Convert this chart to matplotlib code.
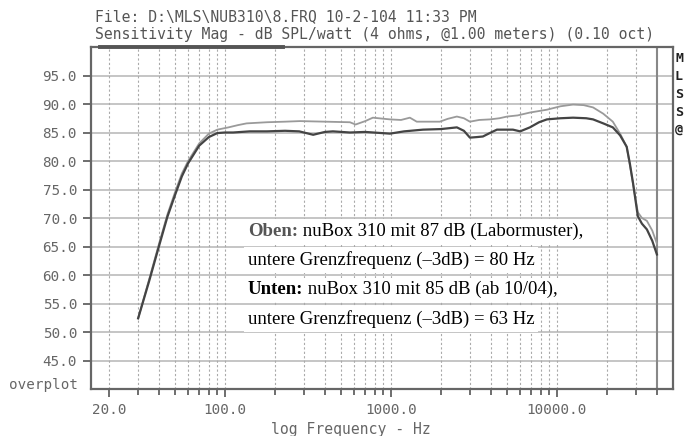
import matplotlib.pyplot as plt
from matplotlib.ticker import FixedLocator, NullFormatter

# Unten: nuBox 310, 85 dB (dark curve)
freq_unten = [30, 35, 40, 45, 50, 55, 60, 70, 80, 90, 100, 112, 141, 179, 230, 280, 340, 400,
              447, 566, 700, 986, 1200, 1560, 2000, 2495, 2750, 2990, 3300, 3580, 4000, 4350,
              5430, 6000, 6870, 7800, 8700, 10500, 12500, 15000, 16500, 19000, 21700, 24000,
              26300, 27500, 28700, 30700, 32500, 34800, 37500, 40000]
db_unten = [52.4, 59.0, 65.0, 70.2, 74.0, 77.3, 79.6, 82.7, 84.2, 84.9, 85.0, 85.0, 85.2, 85.2,
            85.3, 85.2, 84.6, 85.1, 85.2, 85.0, 85.1, 84.8, 85.2, 85.5, 85.6, 85.9, 85.3, 84.1,
            84.2, 84.3, 85.0, 85.5, 85.5, 85.2, 85.9, 86.8, 87.3, 87.5, 87.6, 87.5, 87.3, 86.6,
            85.9, 84.5, 82.5, 79.5, 76.2, 70.3, 69.0, 68.0, 66.0, 63.6]

# Oben: nuBox 310, 87 dB Labormuster (light curve)
freq_oben = [30, 35, 40, 45, 50, 55, 60, 70, 80, 90, 105, 120, 135, 179, 230, 283, 400, 566,
             612, 700, 778, 986, 1150, 1300, 1430, 1700, 1970, 2200, 2495, 2750, 2990, 3400,
             3950, 4500, 5010, 5800, 6870, 8700, 10500, 12500, 14500, 16500, 19000, 21700,
             24000, 26300, 27500, 28700, 30700, 32500, 34800, 37500, 40000]
db_oben = [52.4, 59.3, 65.4, 70.6, 74.5, 77.8, 80.0, 83.1, 84.8, 85.5, 85.9, 86.3, 86.6, 86.8,
           86.9, 87.0, 86.9, 86.8, 86.4, 87.0, 87.6, 87.3, 87.2, 87.6, 86.9, 86.9, 86.9, 87.4,
           87.8, 87.5, 86.9, 87.2, 87.3, 87.5, 87.8, 88.0, 88.5, 89.0, 89.6, 89.9, 89.8, 89.4,
           88.3, 86.9, 84.8, 82.5, 79.3, 76.0, 71.0, 70.0, 69.5, 67.8, 65.5]

y_ticks = [45, 50, 55, 60, 65, 70, 75, 80, 85, 90, 95]
x_major = [20, 100, 1000, 10000]
x_major_labels = ['20.0', '100.0', '1000.0', '10000.0']
x_minor = [30, 40, 50, 60, 70, 80, 90,
           200, 300, 400, 500, 600, 700, 800, 900,
           2000, 3000, 4000, 5000, 6000, 7000, 8000, 9000,
           20000, 30000, 40000]

mono = 'DejaVu Sans Mono'
gray_txt = '#666666'

fig = plt.figure(figsize=(6.85, 4.36), dpi=100)
ax = fig.add_axes([91 / 685, 1 - 389 / 436, 582 / 685, 342 / 436])
ax.set_xscale('log')
ax.set_xlim(15.6, 50000)
ax.set_ylim(40, 100)

# grid
for y in y_ticks:
    ax.axhline(y, color='#bbbbbb', lw=1.2, zorder=1)
for x in x_major + x_minor[:-1]:
    ax.axvline(x, color='#aaaaaa', lw=0.8, linestyle=(0, (2, 2)), zorder=1)
ax.axvline(40000, color='#888888', lw=1.5, zorder=1)

# curves
ax.plot(freq_oben, db_oben, color='#9a9a9a', lw=1.3, zorder=3)
ax.plot(freq_unten, db_unten, color='#444444', lw=1.6, zorder=4)

# ticks
ax.set_yticks(y_ticks)
ax.set_yticklabels([f'{v:.1f}' for v in y_ticks])
ax.set_xticks(x_major)
ax.set_xticklabels(x_major_labels)
ax.xaxis.set_minor_locator(FixedLocator(x_minor))
ax.xaxis.set_minor_formatter(NullFormatter())
ax.yaxis.set_minor_locator(FixedLocator([]))
ax.tick_params(axis='both', which='major', direction='out', length=6, width=1.2,
               color='#555555', labelcolor=gray_txt, labelsize=10.3, pad=4)
ax.tick_params(axis='x', which='minor', direction='out', length=4, width=1.2, color='#555555')
for lab in ax.get_xticklabels() + ax.get_yticklabels():
    lab.set_family(mono)

for sp in ax.spines.values():
    sp.set_color('#666666')
    sp.set_linewidth(1.6)
ax.plot([0.015, 0.33], [1, 1], transform=ax.transAxes, color='#555555', lw=2.8,
        clip_on=False, zorder=5)

# header and axis texts
fig.text(95 / 685, 1 - 17 / 436, 'File: D:\\MLS\\NUB310\\8.FRQ 10-2-104 11:33 PM',
         family=mono, fontsize=10.6, color='#555555', va='center')
fig.text(95 / 685, 1 - 35 / 436,
         'Sensitivity Mag - dB SPL/watt (4 ohms, @1.00 meters) (0.10 oct)',
         family=mono, fontsize=10.6, color='#555555', va='center')
fig.text(351 / 685, 1 - 429 / 436, 'log Frequency - Hz', family=mono, fontsize=10.6,
         color=gray_txt, ha='center', va='center')
fig.text(78 / 685, 1 - 385 / 436, 'overplot', family=mono, fontsize=10.3,
         color=gray_txt, ha='right', va='center')
for ch, yy in zip(['M', 'L', 'S', 'S', '@'], [58, 76, 94, 112, 129]):
    fig.text(675 / 685, 1 - yy / 436, ch, family=mono, fontsize=9.5, fontweight='bold',
             color='#222222', va='center')

# annotation
serif = 'Liberation Serif'
box = dict(facecolor='white', edgecolor='none', pad=2.5)
lines = [
    ('Oben:', '#555555', ' nuBox 310 mit 87 dB (Labormuster),'),
    ('', None, 'untere Grenzfrequenz (\u20133dB) = 80 Hz'),
    ('Unten:', '#000000', ' nuBox 310 mit 85 dB (ab 10/04),'),
    ('', None, 'untere Grenzfrequenz (\u20133dB) = 63 Hz'),
]
for (head, hcol, rest), yy in zip(lines, [231, 260, 290, 319]):
    ypos = 1 - yy / 436
    if head:
        t1 = fig.text(248 / 685, ypos, head, family=serif, fontsize=13.5, fontweight='bold',
                      color=hcol, va='center', bbox=box, zorder=6)
        ax.annotate(rest, xy=(1, 0), xycoords=t1, va='bottom', ha='left',
                    family=serif, fontsize=13.5, color='black', bbox=box,
                    annotation_clip=False, zorder=6)
    else:
        fig.text(248 / 685, ypos, rest, family=serif, fontsize=13.5, color='black',
                 va='center', bbox=box, zorder=6)

fig.savefig('out.png', dpi=100)
